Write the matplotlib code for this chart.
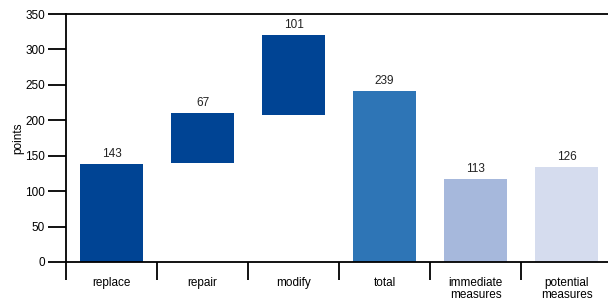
import matplotlib.pyplot as plt

plt.rcParams['font.family'] = ['Liberation Sans', 'DejaVu Sans']

categories = ['replace', 'repair', 'modify', 'total', 'immediate\nmeasures', 'potential\nmeasures']
bar_bottoms = [0, 140, 208, 0, 0, 0]
bar_tops = [138, 210, 320, 241, 117, 134]
bar_labels = ['143', '67', '101', '239', '113', '126']
colors = ['#004494', '#004494', '#004494', '#2e75b6', '#a6b8dc', '#d5dcee']

fig = plt.figure(figsize=(6.08, 3.02), dpi=100)
ax = fig.add_axes([0.1086, 0.1325, 0.898, 0.8211])

x = list(range(len(categories)))
heights = [t - b for t, b in zip(bar_tops, bar_bottoms)]
ax.bar(x, heights, bottom=bar_bottoms, width=0.69, color=colors, zorder=2)

for xi, top, lab in zip(x, bar_tops, bar_labels):
    ax.text(xi, top + 6, lab, ha='center', va='bottom', fontsize=8.5, color='#222222')

ax.set_xlim(-0.5, 5.5)
ax.set_ylim(0, 350)
ax.set_yticks(range(0, 351, 50))

# boundary ticks without labels, category names on minor ticks
ax.set_xticks([i - 0.5 for i in range(len(categories) + 1)])
ax.set_xticklabels([])
ax.set_xticks(x, minor=True)
ax.set_xticklabels(categories, minor=True, fontsize=8.5, linespacing=0.95)
ax.tick_params(axis='x', which='major', length=13, width=1.3, direction='out')
ax.tick_params(axis='x', which='minor', length=0, pad=11)
ax.tick_params(axis='y', length=13, width=1.3, labelsize=8.5, pad=2)

for s in ['left', 'bottom', 'top']:
    ax.spines[s].set_linewidth(1.3)
ax.spines['right'].set_visible(False)

ax.set_ylabel('points', fontsize=8.5, labelpad=1)

fig.savefig('out.png', dpi=100)
